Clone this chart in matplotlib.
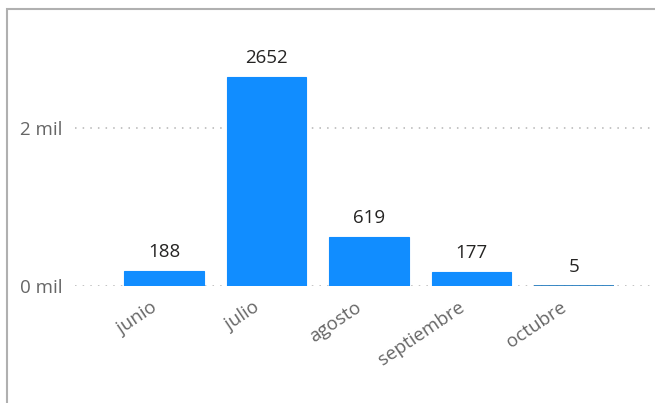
import matplotlib.pyplot as plt
from matplotlib.patches import Rectangle
from matplotlib.transforms import ScaledTranslation

meses = ["junio", "julio", "agosto", "septiembre", "octubre"]
valores = [188, 2652, 619, 177, 5]
ticks = [0, 2000]
tick_labels = ["0 mil", "2 mil"]

plt.rcParams['font.family'] = ['Open Sans', 'DejaVu Sans']

fig = plt.figure(figsize=(6.55, 4.03), dpi=100)
ax = fig.add_axes([75 / 655, 117 / 403, 580 / 655, 247 / 403])

x = range(len(meses))
bars = ax.bar(x, valores, width=0.78, color="#118DFF", edgecolor="#118DFF",
              linewidth=0.8, zorder=3)
# la barra de octubre es casi nula: se ve como una línea fina
bars[-1].set_edgecolor("#2A7FC0")
bars[-1].set_linewidth(1.3)
for b, v in zip(bars, valores):
    ax.annotate(str(v), (b.get_x() + b.get_width() / 2, v), xytext=(0, 10),
                textcoords="offset points", ha="center", va="baseline",
                fontsize=13.5, color="#252423", zorder=4)

ax.set_xlim(-0.868, 4.79)
ax.set_ylim(0, 3127)
ax.set_yticks(ticks)
ax.set_yticklabels(tick_labels)
ax.set_xticks(list(x))
ax.set_xticklabels(meses, rotation=34, ha="right", rotation_mode="anchor")
ax.tick_params(axis="both", length=0, labelsize=13.5, labelcolor="#666666")
ax.tick_params(axis="y", pad=9)
ax.tick_params(axis="x", pad=9)
offset = ScaledTranslation(-14 / 100, 0, fig.dpi_scale_trans)
for lbl in ax.get_xticklabels():
    lbl.set_transform(lbl.get_transform() + offset)
ax.grid(axis="y", linestyle=(0, (1, 4)), color="#B4B4B4", linewidth=1.1, zorder=0)
for s in ax.spines.values():
    s.set_visible(False)

# marco del visual
fig.patches.append(Rectangle((7 / 655, -0.1), 1.2, 1.1 - 9 / 403, transform=fig.transFigure,
                             fill=False, edgecolor="#B0B0B0", linewidth=1.5))

fig.savefig("out.png", dpi=100)
